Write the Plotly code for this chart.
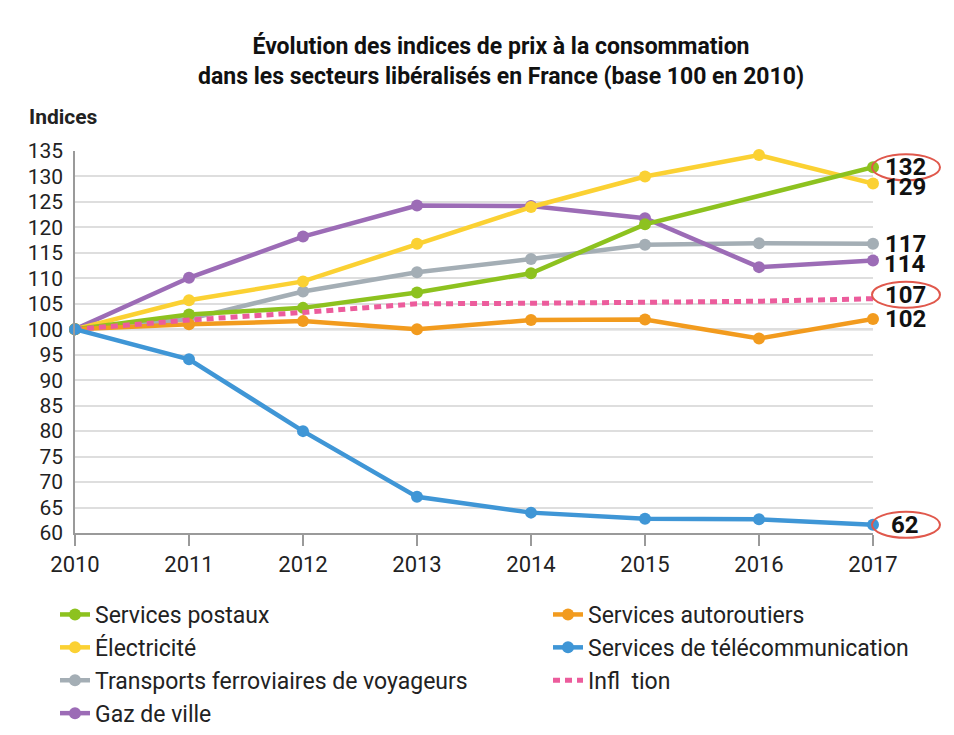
import plotly.graph_objects as go

YEARS = [2010, 2011, 2012, 2013, 2014, 2015, 2016, 2017]

postaux = [100, 102.9, 104.2, 107.2, 111.0, 120.6, None, 131.8]
electricite = [100, 105.7, 109.4, 116.8, 124.0, 130.0, 134.2, 128.6]
ferroviaires = [100, 102.0, 107.4, 111.2, 113.8, 116.6, 116.9, 116.8]
gaz = [100, 110.1, 118.2, 124.3, 124.2, 121.8, 112.2, 113.5]
autoroutiers = [100, 101.0, 101.6, 100.0, 101.8, 101.9, 98.2, 102.0]
telecom = [100, 94.1, 80.0, 67.1, 64.0, 62.8, 62.7, 61.6]
inflation = [100, 101.8, 103.3, 105.0, 105.1, 105.2, 105.5, 106.0]

NAMES = {
    "postaux": "Services postaux",
    "electricite": "Électricité",
    "ferroviaires": "Transports ferroviaires de voyageurs",
    "gaz": "Gaz de ville",
    "autoroutiers": "Services autoroutiers",
    "telecom": "Services de télécommunication",
    "inflation": "Infl  tion",
}
END_LABELS = {
    "postaux": "132", "electricite": "129", "ferroviaires": "117", "gaz": "114",
    "inflation": "107", "autoroutiers": "102", "telecom": "62",
}
CIRCLED = ["postaux", "inflation", "telecom"]
BASE = 100
Y_MIN, Y_MAX, Y_STEP = 60, 135, 5

TITLE = "Évolution des indices de prix à la consommation<br>dans les secteurs libéralisés en France (base 100 en 2010)"
Y_TITLE = "Indices"

DATA = {
    "postaux": postaux, "electricite": electricite, "ferroviaires": ferroviaires,
    "gaz": gaz, "autoroutiers": autoroutiers, "telecom": telecom, "inflation": inflation,
}
COLORS = {
    "postaux": "#8dc21f", "electricite": "#fbd133", "ferroviaires": "#a4aeb5",
    "gaz": "#9c6cb6", "autoroutiers": "#f29b1e", "telecom": "#3f96d6",
    "inflation": "#ec5c9c",
}
LEGEND = {
    "postaux": ("legend", 1), "electricite": ("legend", 2), "ferroviaires": ("legend", 3),
    "gaz": ("legend", 4), "autoroutiers": ("legend2", 1), "telecom": ("legend2", 2),
    "inflation": ("legend2", 3),
}
LABEL_YSHIFT = {"postaux": 0, "electricite": -3, "ferroviaires": 0, "gaz": -3,
                "inflation": 4, "autoroutiers": 0, "telecom": 0}
DRAW_ORDER = ["ferroviaires", "gaz", "electricite", "postaux", "autoroutiers", "inflation", "telecom"]

FONT = "Roboto, 'Open Sans', sans-serif"
TXT = "#222222"
# page has an 8px body margin; figure sized so that it fits the 954x735 window
W, H = 946, 727
ML, MR, MT, MB = 67, 81, 143, 202
PW, PH = W - ML - MR, H - MT - MB
PAGE_OFF = 8


def px_x(px):
    return (px - PAGE_OFF - ML) / PW


def px_y(py):
    return (PAGE_OFF + H - MB - py) / PH


fig = go.Figure()
for key in DRAW_ORDER:
    leg, rank = LEGEND[key]
    if key == "inflation":
        fig.add_trace(go.Scatter(
            x=YEARS, y=DATA[key], name=NAMES[key], mode="lines",
            line=dict(color=COLORS[key], width=5, dash="7px,5px"),
            legend=leg, legendrank=rank, legendgroup=key, cliponaxis=False,
        ))
    else:
        fig.add_trace(go.Scatter(
            x=YEARS, y=DATA[key], name=NAMES[key], mode="lines+markers",
            line=dict(color=COLORS[key], width=4.5),
            marker=dict(color=COLORS[key], size=12),
            connectgaps=True,
            legend=leg, legendrank=rank, legendgroup=key, cliponaxis=False,
        ))

# baseline at 100
fig.add_shape(type="line", xref="paper", x0=0, x1=1, yref="y", y0=BASE, y1=BASE,
              line=dict(color="#a8a8a8", width=2), layer="below")

last_x = YEARS[-1]
for key, txt in END_LABELS.items():
    yv = DATA[key][-1]
    fig.add_annotation(x=last_x, y=yv, xref="x", yref="y", text="<b>" + txt + "</b>",
                       showarrow=False, xanchor="center", yanchor="middle",
                       xshift=32, yshift=LABEL_YSHIFT[key],
                       font=dict(family=FONT, size=24, color="#111111"))
for key in CIRCLED:
    yv = DATA[key][-1]
    s = LABEL_YSHIFT[key]
    fig.add_shape(type="circle", xref="paper", yref="paper",
                  xsizemode="pixel", ysizemode="pixel",
                  xanchor=1, yanchor=(yv - Y_MIN) / (Y_MAX - Y_MIN),
                  x0=-1, x1=67, y0=-13 + s, y1=13 + s,
                  line=dict(color="#e0584c", width=2))

fig.add_annotation(x=px_x(27), y=px_y(117), xref="paper", yref="paper",
                   text="<b>" + Y_TITLE + "</b>",
                   showarrow=False, xanchor="left", yanchor="middle",
                   font=dict(family=FONT, size=21, color=TXT))

fig.update_layout(
    width=W, height=H,
    margin=dict(l=ML, r=MR, t=MT, b=MB, autoexpand=False),
    plot_bgcolor="white", paper_bgcolor="white",
    font=dict(family=FONT, size=21, color=TXT),
    title=dict(text="<b>" + TITLE + "</b>", x=(501 - PAGE_OFF) / W, xref="container",
               xanchor="center", y=1 - 46 / H, yref="container", yanchor="top",
               font=dict(family=FONT, size=23, color="#111111")),
    xaxis=dict(range=[YEARS[0], YEARS[-1]], tickvals=YEARS, showgrid=False,
               showline=True, linecolor="#9a9a9a", linewidth=1.5,
               ticks="outside", ticklen=11, tickwidth=1.5, tickcolor="#9a9a9a",
               tickfont=dict(family=FONT, size=22, color=TXT), zeroline=False),
    yaxis=dict(range=[Y_MIN, Y_MAX], tick0=Y_MIN, dtick=Y_STEP, showgrid=True,
               gridcolor="#dedede", gridwidth=1.5, showline=True, linecolor="#9a9a9a",
               linewidth=1.5, ticks="", ticklabelstandoff=6, zeroline=False,
               tickfont=dict(family=FONT, size=21, color=TXT)),
    legend=dict(x=px_x(55), y=px_y(593),
                xanchor="left", yanchor="top", orientation="v",
                tracegroupgap=0, font=dict(family=FONT, size=23, color=TXT),
                bgcolor="rgba(0,0,0,0)"),
    legend2=dict(x=px_x(548), y=px_y(593),
                 xanchor="left", yanchor="top", orientation="v",
                 tracegroupgap=0, font=dict(family=FONT, size=23, color=TXT),
                 bgcolor="rgba(0,0,0,0)"),
)

fig.write_html("out.html")
